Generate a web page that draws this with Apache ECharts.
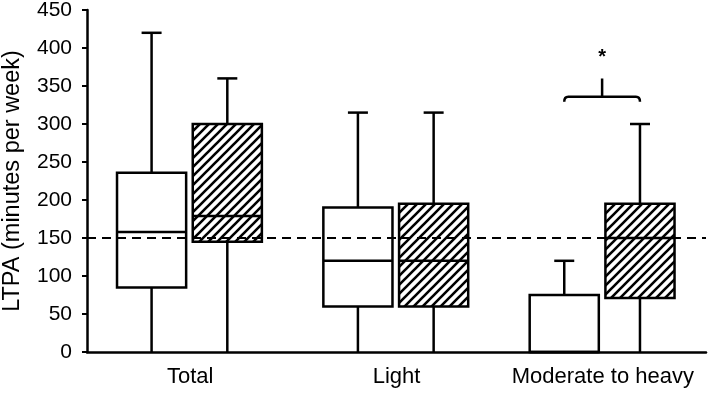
<!DOCTYPE html>
<html>
<head>
<meta charset="utf-8">
<script src="https://cdn.jsdelivr.net/npm/echarts@6/dist/echarts.min.js"></script>
<style>
  html, body { margin: 0; padding: 0; background: #fff; }
  #chart { width: 708px; height: 394px; }
</style>
</head>
<body>
<div id="chart"></div>
<script>
// data (minutes per week)
var categories = ['Total', 'Light', 'Moderate to heavy'];
// [min, q1, median, q3, max]
var whiteBoxes = [
  [0, 85, 158, 236, 420],
  [0, 60, 120, 190, 315],
  [0, 0, 0, 75, 120]
];
var hatchedBoxes = [
  [0, 145, 179, 300, 360],
  [0, 60, 120, 195, 315],
  [0, 71, 150, 195, 300]
];
var yTicks = [0, 50, 100, 150, 200, 250, 300, 350, 400, 450];
var referenceLine = 150;
// significance bracket: [category, bracket level, tick top, star level]
var bracket = [[2, 336, 360, 388]];

var font = '"Liberation Sans", Arial, sans-serif';

// diagonal hatch pattern
function makeHatch() {
  var s = 9;
  var c = document.createElement('canvas');
  c.width = s; c.height = s;
  var ctx = c.getContext('2d');
  ctx.strokeStyle = '#000';
  ctx.lineWidth = 2.6;
  ctx.beginPath();
  ctx.moveTo(0, s); ctx.lineTo(s, 0);
  ctx.moveTo(-2, 2); ctx.lineTo(2, -2);
  ctx.moveTo(s - 2, s + 2); ctx.lineTo(s + 2, s - 2);
  ctx.stroke();
  return c;
}
var hatch = { image: makeHatch(), repeat: 'repeat' };

function boxRenderer(offsetFrac, fill) {
  return function (params, api) {
    var cat = api.value(0);
    var band = api.size([1, 0])[0];
    var cx = api.coord([cat, 0])[0] + band * offsetFrac;
    var w = band * 0.335;
    var yMin = api.coord([cat, api.value(1)])[1];
    var yQ1 = api.coord([cat, api.value(2)])[1];
    var yMed = api.coord([cat, api.value(3)])[1];
    var yQ3 = api.coord([cat, api.value(4)])[1];
    var yMax = api.coord([cat, api.value(5)])[1];
    var capW = 20;
    var lineStyle = { stroke: '#000', lineWidth: 2.5, fill: null };
    return {
      type: 'group',
      children: [
        { type: 'line', shape: { x1: cx, y1: yQ3, x2: cx, y2: yMax }, style: lineStyle },
        { type: 'line', shape: { x1: cx - capW / 2, y1: yMax, x2: cx + capW / 2, y2: yMax }, style: lineStyle },
        { type: 'line', shape: { x1: cx, y1: yQ1, x2: cx, y2: yMin }, style: lineStyle },
        { type: 'rect', shape: { x: cx - w / 2, y: yQ3, width: w, height: yQ1 - yQ3 },
          style: { fill: fill, stroke: '#000', lineWidth: 2.5 } },
        { type: 'line', shape: { x1: cx - w / 2, y1: yMed, x2: cx + w / 2, y2: yMed }, style: lineStyle }
      ]
    };
  };
}

function toData(boxes) {
  return boxes.map(function (b, i) { return [i].concat(b); });
}

var chart = echarts.init(document.getElementById('chart'));
chart.setOption({
  animation: false,
  grid: { left: 87, right: 2, top: 10, bottom: 42, containLabel: false, outerBoundsMode: 'none' },
  xAxis: {
    type: 'category',
    data: categories,
    axisLine: { lineStyle: { color: '#000', width: 2.5 } },
    axisTick: { show: false },
    axisLabel: { color: '#000', fontSize: 22, fontFamily: font, margin: 14, interval: 0, hideOverlap: false }
  },
  yAxis: {
    type: 'value',
    min: yTicks[0],
    max: yTicks[yTicks.length - 1],
    interval: 50,
    name: 'LTPA (minutes per week)',
    nameLocation: 'middle',
    nameGap: 62,
    nameTextStyle: { color: '#000', fontSize: 23.5, fontFamily: font },
    axisLine: { show: true, lineStyle: { color: '#000', width: 2.5 } },
    axisTick: { show: true, length: 5, lineStyle: { color: '#000', width: 2 } },
    axisLabel: { color: '#000', fontSize: 21, fontFamily: font, margin: 15 },
    splitLine: { show: false }
  },
  series: [
    {
      type: 'line',
      data: [],
      z: 1,
      markLine: {
        silent: true,
        symbol: 'none',
        label: { show: false },
        lineStyle: { color: '#000', width: 2, type: [9, 6] },
        data: [{ yAxis: referenceLine }]
      }
    },
    {
      type: 'custom',
      z: 3,
      renderItem: boxRenderer(-0.187, '#fff'),
      data: toData(whiteBoxes)
    },
    {
      type: 'custom',
      z: 3,
      renderItem: boxRenderer(0.18, hatch),
      data: toData(hatchedBoxes)
    },
    {
      type: 'custom',
      z: 4,
      renderItem: function (params, api) {
        var cat = api.value(0);
        var band = api.size([1, 0])[0];
        var base = api.coord([cat, 0])[0];
        var x1 = base - band * 0.187;
        var x2 = base + band * 0.18;
        var xm = (x1 + x2) / 2;
        var y = api.coord([cat, api.value(1)])[1];
        var yt = api.coord([cat, api.value(2)])[1];
        var ys = api.coord([cat, api.value(3)])[1];
        var path = 'M' + x1 + ' ' + (y + 5) + ' Q' + x1 + ' ' + y + ' ' + (x1 + 4) + ' ' + y +
          ' L' + (x2 - 4) + ' ' + y + ' Q' + x2 + ' ' + y + ' ' + x2 + ' ' + (y + 5) +
          ' M' + xm + ' ' + y + ' L' + xm + ' ' + yt;
        return {
          type: 'group',
          children: [
            { type: 'path', shape: { pathData: path }, style: { fill: null, stroke: '#000', lineWidth: 2.5 } },
            { type: 'text', x: xm, y: ys,
              style: { text: '*', fill: '#000', fontSize: 20, fontWeight: 'bold', fontFamily: font,
                       align: 'center', verticalAlign: 'middle' } }
          ]
        };
      },
      data: bracket
    }
  ]
});
</script>
</body>
</html>
